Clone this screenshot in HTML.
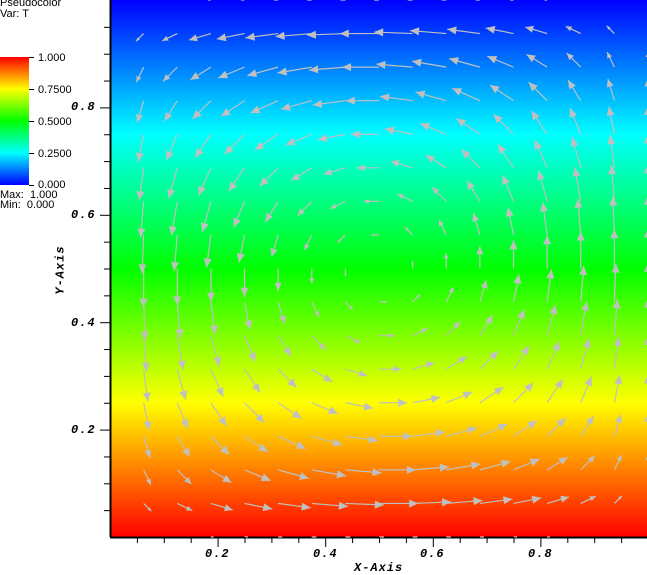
<!DOCTYPE html>
<html><head><style>
body{margin:0;width:647px;height:573px;background:#fff;overflow:hidden;position:relative;font-family:"Liberation Sans",sans-serif}
.t{position:absolute;font-size:11px;color:#000;line-height:11px}
.ax{position:absolute;font-family:"Liberation Mono",monospace;font-weight:bold;font-style:italic;font-size:12px;letter-spacing:1px}
</style></head><body>
<div class="t" style="left:0;top:-2px">Pseudocolor</div>
<div class="t" style="left:0;top:9px">Var: T</div>
<div style="position:absolute;left:0;top:57px;width:29px;height:128px;background:linear-gradient(#f00,#ff0 25%,#0f0 50%,#0ff 75%,#00f)"></div>
<div class="t" style="left:38px;top:53px">1.000</div>
<div class="t" style="left:38px;top:85px">0.7500</div>
<div class="t" style="left:38px;top:117px">0.5000</div>
<div class="t" style="left:38px;top:149px">0.2500</div>
<div class="t" style="left:38px;top:180px">0.000</div>
<div class="t" style="left:0;top:190px">Max:&nbsp; 1.000</div>
<div class="t" style="left:0;top:200px">Min:&nbsp; 0.000</div>
<div style="position:absolute;left:111px;top:0;width:536px;height:537px;background:linear-gradient(#00f,#0ff 25%,#0f0 50%,#ff0 75%,#f00)"></div>
<svg id="s" width="647" height="573" style="position:absolute;left:0;top:0">
<g stroke="#000" stroke-width="1">
<line x1="29" y1="57.5" x2="34" y2="57.5"/><line x1="29" y1="89.5" x2="34" y2="89.5"/><line x1="29" y1="121.5" x2="34" y2="121.5"/><line x1="29" y1="153.5" x2="34" y2="153.5"/><line x1="29" y1="185.5" x2="34" y2="185.5"/>
<line x1="110.5" y1="0" x2="110.5" y2="537" stroke-width="2"/>
<line x1="110" y1="537.5" x2="647" y2="537.5" stroke-width="2"/>
</g>
<g id="ar"></g><g id="tk" stroke="#000"></g>
</svg>
<div class="ax" style="left:71px;top:100px">0.8</div>
<div class="ax" style="left:71px;top:208px">0.6</div>
<div class="ax" style="left:71px;top:316px">0.4</div>
<div class="ax" style="left:71px;top:423px">0.2</div>
<div class="ax" style="left:205px;top:547px">0.2</div>
<div class="ax" style="left:313px;top:547px">0.4</div>
<div class="ax" style="left:420px;top:547px">0.6</div>
<div class="ax" style="left:528px;top:547px">0.8</div>
<div class="ax" style="left:354px;top:561px">X-Axis</div>
<div class="ax" style="left:36px;top:263px;transform:rotate(-90deg)">Y-Axis</div>
<script>
var ns="http://www.w3.org/2000/svg",tk=document.getElementById("tk"),ar=document.getElementById("ar");
function L(x1,y1,x2,y2,p,c,w){var l=document.createElementNS(ns,"line");l.setAttribute("x1",x1);l.setAttribute("y1",y1);l.setAttribute("x2",x2);l.setAttribute("y2",y2);if(c)l.setAttribute("stroke",c);if(w)l.setAttribute("stroke-width",w);p.appendChild(l);}
var X0=110,W=538,Y0=537,H=537;
for(var i=1;i<20;i++){var f=i/20,big=i%4==0;var x=X0+f*W+.5;L(x,537,x,big?547:543,tk);var y=Y0-f*H+.5;L(110,y,big?100:104,y,tk);}
for(var i=1;i<=16;i++)for(var j=0;j<=16;j++){
 var x=i/16,y=j/16;var u=Math.sin(Math.PI*x)*Math.cos(Math.PI*y),v=-Math.cos(Math.PI*x)*Math.sin(Math.PI*y);
 var s=40;if(j==0||j==16)s=5;
 var dx=s*u,dy=-s*v,len=Math.hypot(dx,dy);if(len<2)continue;
 var px=X0+x*W,py=Y0-y*H,ex=px+dx,ey=py+dy;
 L(px,py,ex,ey,ar,"#c0c0c0",1.2);
 var ux=dx/len,uy=dy/len,h=Math.min(9,len*.35),w=h*.45;
 var p=document.createElementNS(ns,"polygon");
 p.setAttribute("points",ex+","+ey+" "+(ex-ux*h-uy*w)+","+(ey-uy*h+ux*w)+" "+(ex-ux*h+uy*w)+","+(ey-uy*h-ux*w));
 p.setAttribute("fill","#c0c0c0");ar.appendChild(p);}
</script>
</body></html>
